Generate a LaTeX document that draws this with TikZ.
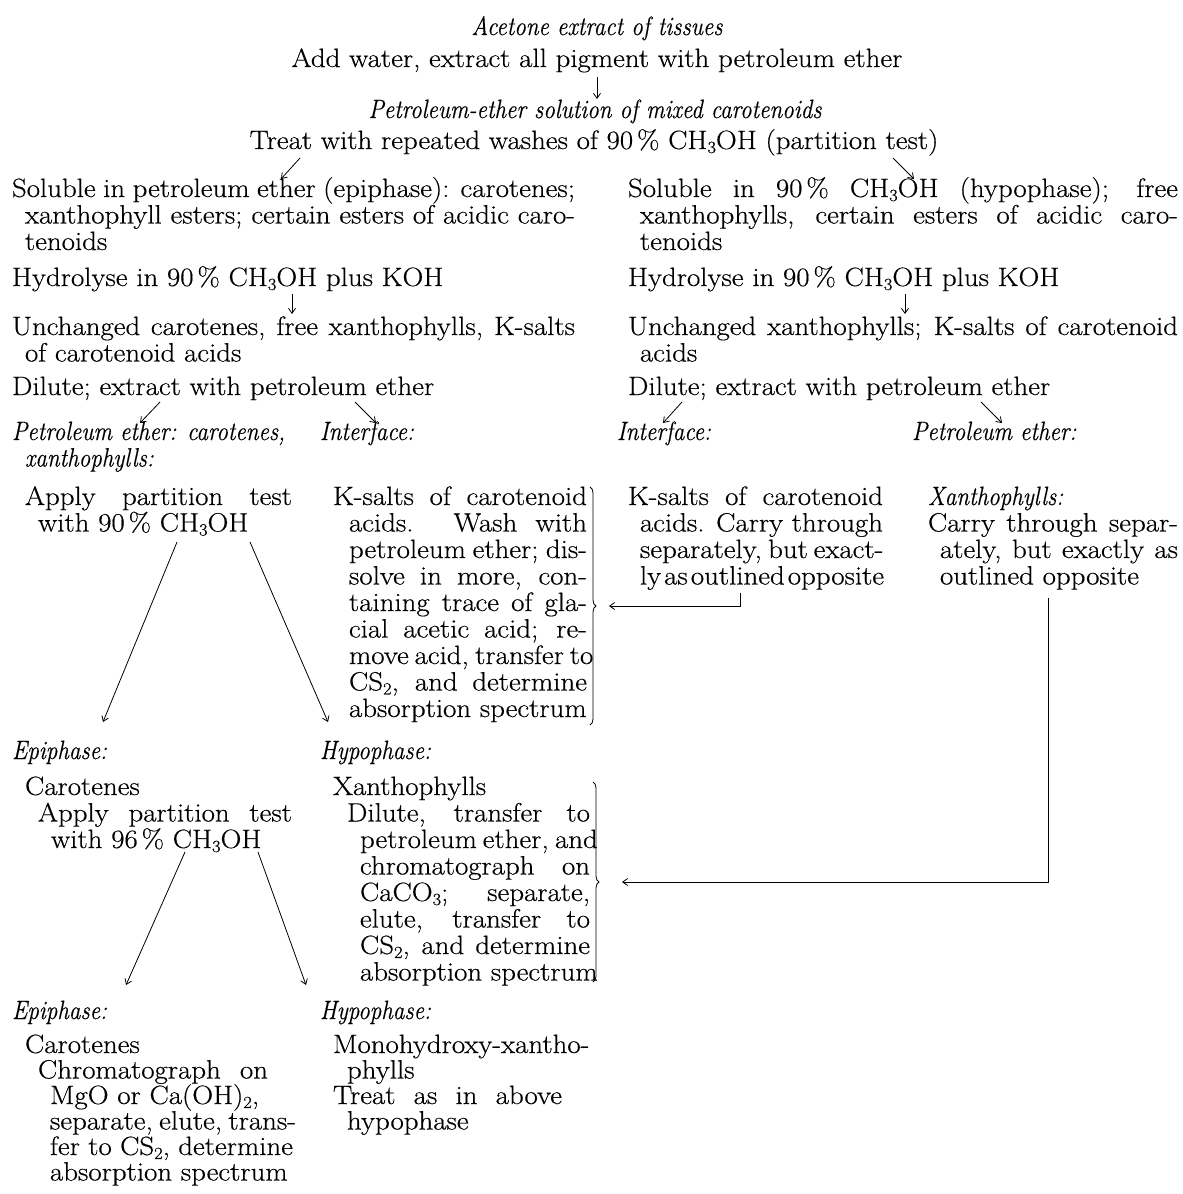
\documentclass[tikz,border=0pt]{standalone}
\usepackage{fontspec}
\setmainfont{Latin Modern Roman}[FakeStretch=1.09,FakeBold=0.4]
\usepackage{graphicx}
\usetikzlibrary{arrows.meta,decorations.pathreplacing}
\newcommand\fs{\fontsize{26.5}{26.5}\selectfont\lineskiplimit=-30pt\lineskip=0pt}
\newcommand\fsb{\fontsize{26.5}{25.5}\selectfont\lineskiplimit=-30pt\lineskip=0pt}
\newcommand\J[2]{\makebox[#1pt][s]{#2}}
\newcommand\ind[1]{\hspace*{#1pt}}
\newcommand\ital[1]{\scalebox{0.80}[1]{\itshape #1}}
\newcommand\st{\rule{0pt}{20pt}}
\newcommand\sbs[1]{\raisebox{-0.15em}{\fontsize{17}{17}\selectfont #1}}
\newcommand\pc{\kern4pt\%}
\tikzset{
  txt/.style={anchor=north west, inner sep=0pt, outer sep=0pt, align=left, font=\fs},
  txtb/.style={txt, font=\fsb},
  ctr/.style={anchor=north, inner sep=0pt, outer sep=0pt, align=center, font=\fs},
  arr/.style={-{Straight Barb[length=5pt,width=7pt]}, line width=0.8pt},
  brc/.style={decorate, decoration={brace, amplitude=6pt}, line width=0.8pt},
}
\begin{document}
\begin{tikzpicture}[x=1pt,y=-1pt]
\fill[white] (0,0) rectangle (1183,1194);
\useasboundingbox (0,0) rectangle (1183,1194);

% top
\node[ctr] (acetone) at (597,15) {\st\ital{Acetone extract of tissues}};
\node[ctr] (addwater) at (597,47) {\st Add water, extract all pigment with petroleum ether};
\node[ctr] (petsol) at (595,98) {\st\ital{Petroleum-ether solution of mixed carotenoids}};
\node[ctr] (treat) at (594,129) {\st Treat with repeated washes of 90\pc{} CH\sbs{3}OH (partition test)};

% left column
\node[txt] (solL) at (12,177) {\st\J{563}{Soluble in petroleum ether (epiphase): carotenes;}\\
  \ind{13}\J{550}{xanthophyll esters; certain esters of acidic caro-}\\
  \ind{13}tenoids};
\node[txt] (hydL) at (12,266) {\st Hydrolyse in 90\pc{} CH\sbs{3}OH plus KOH};
\node[txt] (uncL) at (12,315) {\st\J{563}{Unchanged carotenes, free xanthophylls, K-salts}\\
  \ind{13}of carotenoid acids};
\node[txt] (dilL) at (12,375) {\st Dilute; extract with petroleum ether};

% right column
\node[txt] (solR) at (628,177) {\st\J{550}{Soluble in 90\pc{} CH\sbs{3}OH (hypophase); free}\\
  \ind{12}\J{538}{xanthophylls, certain esters of acidic caro-}\\
  \ind{12}tenoids};
\node[txt] (hydR) at (628,266) {\st Hydrolyse in 90\pc{} CH\sbs{3}OH plus KOH};
\node[txt] (uncR) at (628,315) {\st\J{550}{Unchanged xanthophylls; K-salts of carotenoid}\\
  \ind{12}acids};
\node[txt] (dilR) at (628,375) {\st Dilute; extract with petroleum ether};

% headings
\node[txt] (peL) at (12,420) {\st\ital{Petroleum ether: carotenes,}\\ \ind{13}\ital{xanthophylls:}};
\node[txt] (ifL) at (320,420) {\st\ital{Interface:}};
\node[txt] (ifR) at (617,420) {\st\ital{Interface:}};
\node[txt] (peR) at (912,420) {\st\ital{Petroleum ether:}};

% second level blocks
\node[txt] (apL) at (25,485) {\st\J{267}{Apply partition test}\\ \ind{13}with 90\pc{} CH\sbs{3}OH};
\node[txt] (ksL) at (333,485) {\st\J{254}{K-salts of carotenoid}\\
  \ind{16}\J{238}{acids. Wash with}\\
  \ind{16}\J{238}{petroleum ether; dis-}\\
  \ind{16}\J{238}{solve in more, con-}\\
  \ind{16}\J{238}{taining trace of gla-}\\
  \ind{16}\J{238}{cial acetic acid; re-}\\
  \ind{16}\J{238}{move acid, transfer to}\\
  \ind{16}\J{238}{CS\sbs{2}, and determine}\\
  \ind{16}absorption spectrum};
\node[txt] (ksR) at (628,485) {\st\J{255}{K-salts of carotenoid}\\
  \ind{12}\J{243}{acids. Carry through}\\
  \ind{12}\J{243}{separately, but exact-}\\
  \ind{12}ly\kern3pt as\kern3pt outlined\kern3pt opposite};
\node[txt] (xanR) at (928,485) {\st\ital{Xanthophylls:}\\
  \J{250}{Carry through separ-}\\
  \ind{12}\J{238}{ately, but exactly as}\\
  \ind{12}outlined opposite};

% third level
\node[txt] (epi1) at (12,739) {\st\ital{Epiphase:}};
\node[txt] (hyp1) at (320,739) {\st\ital{Hypophase:}};
\node[txt] (carA) at (25,775) {\st Carotenes\\
  \ind{13}\J{254}{Apply partition test}\\
  \ind{26}with 96\pc{} CH\sbs{3}OH};
\node[txt] (xanA) at (333,775) {\st Xanthophylls\\
  \ind{14}\J{243}{Dilute, transfer to}\\
  \ind{27}\J{230}{petroleum ether, and}\\
  \ind{27}\J{230}{chromatograph on}\\
  \ind{27}\J{230}{CaCO\sbs{3}; separate,}\\
  \ind{27}\J{230}{elute, transfer to}\\
  \ind{27}\J{230}{CS\sbs{2}, and determine}\\
  \ind{27}absorption spectrum};

% fourth level
\node[txt] (epi2) at (12,999) {\st\ital{Epiphase:}};
\node[txt] (hyp2) at (320,999) {\st\ital{Hypophase:}};
\node[txtb] (carB) at (25,1033) {\st Carotenes\\
  \ind{13}\J{230}{Chromatograph on}\\
  \ind{25}MgO or Ca(OH)\sbs{2},\\
  \ind{25}\J{243}{separate, elute, trans-}\\
  \ind{25}\J{243}{fer to CS\sbs{2}, determine}\\
  \ind{25}absorption spectrum};
\node[txtb] (monoB) at (333,1033) {\st Monohydroxy-xantho-\\
  \ind{14}phylls\\
  \J{229}{Treat as in above}\\
  \ind{14}hypophase};

% connector end points
\coordinate (a1s) at (597,77);  \coordinate (a1e) at (597,99);
\coordinate (a2ls) at (300,158); \coordinate (a2le) at (281,179);
\coordinate (a2rs) at (893,158); \coordinate (a2re) at (914,179);
\coordinate (a3ls) at (292,294); \coordinate (a3le) at (292,314);
\coordinate (a3rs) at (905,294); \coordinate (a3re) at (905,314);
\coordinate (a4as) at (160,402); \coordinate (a4ae) at (140,423);
\coordinate (a4bs) at (355,402); \coordinate (a4be) at (376,423);
\coordinate (a4cs) at (682,402); \coordinate (a4ce) at (663,423);
\coordinate (a4ds) at (981,402); \coordinate (a4de) at (1002,423);
\coordinate (a5as) at (177,542); \coordinate (a5ae) at (103,722);
\coordinate (a5bs) at (250,542); \coordinate (a5be) at (328,722);
\coordinate (a6as) at (185,852); \coordinate (a6ae) at (126,985);
\coordinate (a6bs) at (258,852); \coordinate (a6be) at (306,985);
\coordinate (b1t) at (590,487); \coordinate (b1b) at (590,725);
\coordinate (b2t) at (593,782); \coordinate (b2b) at (593,982);
\coordinate (h1s) at (740,593); \coordinate (h1c) at (740,606); \coordinate (h1e) at (609,606);
\coordinate (h2s) at (1048,598); \coordinate (h2c) at (1048,882); \coordinate (h2e) at (622,882);

\draw[arr] (a1s) -- (a1e);
\draw[arr] (a2ls) -- (a2le);
\draw[arr] (a2rs) -- (a2re);
\draw[arr] (a3ls) -- (a3le);
\draw[arr] (a3rs) -- (a3re);
\draw[arr] (a4as) -- (a4ae);
\draw[arr] (a4bs) -- (a4be);
\draw[arr] (a4cs) -- (a4ce);
\draw[arr] (a4ds) -- (a4de);
\draw[arr] (a5as) -- (a5ae);
\draw[arr] (a5bs) -- (a5be);
\draw[arr] (a6as) -- (a6ae);
\draw[arr] (a6bs) -- (a6be);
\draw[brc] (b1t) -- (b1b);
\draw[brc] (b2t) -- (b2b);
\draw[arr] (h1s) -- (h1c) -- (h1e);
\draw[arr] (h2s) -- (h2c) -- (h2e);
\end{tikzpicture}
\end{document}
